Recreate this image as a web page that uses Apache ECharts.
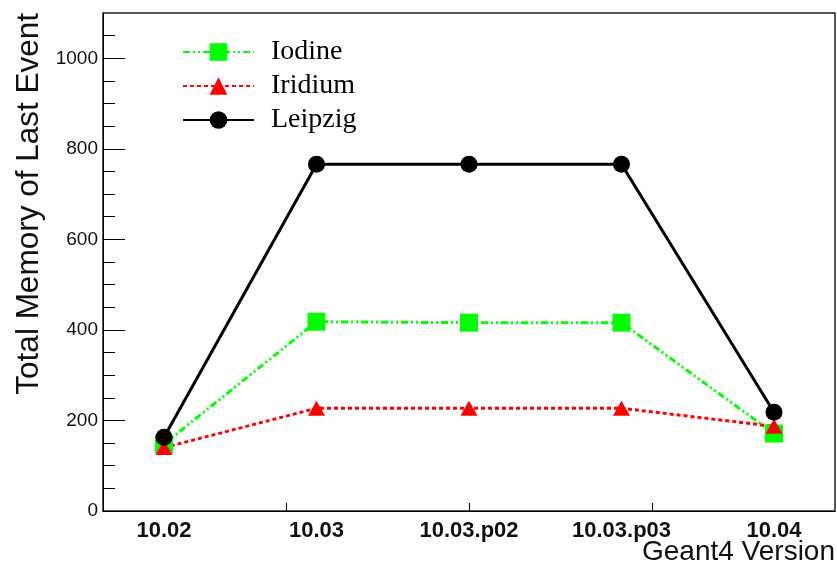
<!DOCTYPE html>
<html>
<head>
<meta charset="utf-8">
<script src="https://cdn.jsdelivr.net/npm/echarts@6/dist/echarts.min.js"></script>
<style>
  html, body { margin: 0; padding: 0; background: #fff; }
  #main { width: 837px; height: 574px; }
</style>
</head>
<body>
<div id="main"></div>
<script>
// Geant4 versions along x, memory of last event along y
var categories = ['10.02', '10.03', '10.03.p02', '10.03.p03', '10.04'];
var iodine = [148, 418, 416, 416, 171];
var iridium = [140, 227, 227, 227, 187];
var leipzig = [163, 766, 766, 766, 218];
var yTicks = [0, 200, 400, 600, 800, 1000];

function toPoints(vals) {
  return vals.map(function (v, i) { return [i, v]; });
}

var sans = 'Liberation Sans, Arial, Helvetica, sans-serif';

var chart = echarts.init(document.getElementById('main'));
chart.setOption({
  animation: false,
  backgroundColor: '#fff',
  grid: {
    left: 103, right: 2, top: 13, bottom: 63,
    show: true, borderColor: '#222', borderWidth: 1.5,
    outerBoundsMode: 'none'
  },
  legend: {
    orient: 'vertical',
    left: 182, top: 38, padding: 0,
    itemWidth: 71, itemHeight: 22, itemGap: 6,
    textStyle: {
      fontFamily: 'Liberation Serif, Times New Roman, serif',
      fontSize: 28, color: '#000',
      padding: [0, 0, 0, 12]
    },
    data: ['Iodine', 'Iridium', 'Leipzig']
  },
  xAxis: {
    type: 'value',
    min: -0.4, max: 4.4,
    splitLine: { show: false },
    axisLine: { onZero: false, lineStyle: { color: '#000', width: 1 } },
    axisTick: {
      inside: true, length: 8,
      customValues: [0.8, 2.0, 3.2],
      lineStyle: { color: '#000', width: 1 }
    },
    axisLabel: {
      customValues: [0, 1, 2, 3, 4],
      formatter: function (v) { return categories[Math.round(v)]; },
      fontFamily: sans, fontWeight: 'bold', fontSize: 22, color: '#111',
      margin: 9
    },
    name: 'Geant4 Version',
    nameLocation: 'end',
    nameGap: 0,
    nameMoveOverlap: false,
    nameTextStyle: {
      fontFamily: sans, fontSize: 28, color: '#111',
      align: 'right', verticalAlign: 'top',
      padding: [27, 0, 0, 0]
    }
  },
  yAxis: {
    type: 'value',
    min: 0, max: 1100, interval: 200,
    splitLine: { show: false },
    axisLine: { onZero: false, lineStyle: { color: '#000', width: 1 } },
    axisTick: {
      inside: true, length: 22,
      customValues: yTicks,
      lineStyle: { color: '#000', width: 1 }
    },
    minorTick: {
      show: true, splitNumber: 4, length: 12,
      lineStyle: { color: '#000', width: 1 }
    },
    axisLabel: {
      customValues: yTicks,
      formatter: function (v) { return String(v); },
      fontFamily: sans, fontSize: 19, color: '#111', margin: 5
    },
    name: 'Total Memory of Last Event',
    nameLocation: 'end',
    nameRotate: 90,
    nameGap: 0,
    nameMoveOverlap: false,
    nameTextStyle: {
      fontFamily: sans, fontSize: 31.5, color: '#111',
      align: 'right', verticalAlign: 'bottom',
      padding: [0, 0, 58, 0]
    }
  },
  series: [
    {
      name: 'Iodine', type: 'line',
      data: toPoints(iodine),
      symbol: 'rect', symbolSize: 18,
      itemStyle: { color: '#00ff00' },
      lineStyle: { color: '#00ff00', width: 3, type: [7, 3, 2, 3, 2, 3] }
    },
    {
      name: 'Iridium', type: 'line',
      data: toPoints(iridium),
      symbol: 'triangle', symbolSize: [17, 15],
      itemStyle: { color: '#ff0000' },
      lineStyle: { color: '#ff0000', width: 3, type: [4, 3] }
    },
    {
      name: 'Leipzig', type: 'line',
      data: toPoints(leipzig),
      symbol: 'circle', symbolSize: 17,
      itemStyle: { color: '#000' },
      lineStyle: { color: '#000', width: 3 }
    }
  ]
});
</script>
</body>
</html>
